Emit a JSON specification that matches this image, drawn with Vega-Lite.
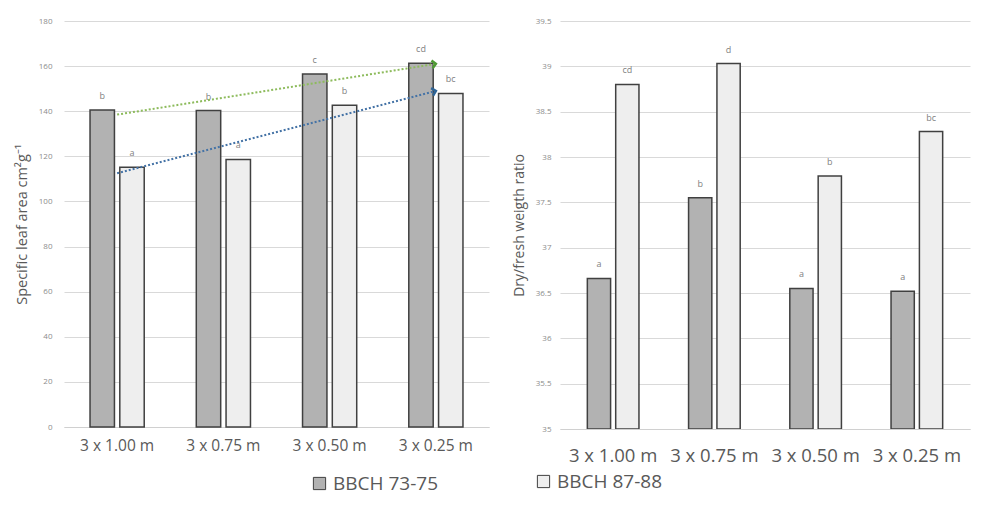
{
  "$schema": "https://vega.github.io/schema/vega-lite/v6.json",
  "background": "white",
  "padding": {"left": 14, "top": 17, "right": 10, "bottom": 5},
  "spacing": 23,
  "config": {
    "view": {"stroke": null},
    "font": "Open Sans",
    "axis": {"labelFont": "Open Sans", "titleFont": "Open Sans"},
    "legend": {"labelFont": "Open Sans"}
  },
  "datasets": {
    "sla": [
      {"spacing": "3 x 1.00 m", "stage": "BBCH 73-75", "value": 140.5, "letter": "b"},
      {"spacing": "3 x 1.00 m", "stage": "BBCH 87-88", "value": 115.2, "letter": "a"},
      {"spacing": "3 x 0.75 m", "stage": "BBCH 73-75", "value": 140.3, "letter": "b"},
      {"spacing": "3 x 0.75 m", "stage": "BBCH 87-88", "value": 118.6, "letter": "a"},
      {"spacing": "3 x 0.50 m", "stage": "BBCH 73-75", "value": 156.5, "letter": "c"},
      {"spacing": "3 x 0.50 m", "stage": "BBCH 87-88", "value": 142.7, "letter": "b"},
      {"spacing": "3 x 0.25 m", "stage": "BBCH 73-75", "value": 161.3, "letter": "cd"},
      {"spacing": "3 x 0.25 m", "stage": "BBCH 87-88", "value": 147.9, "letter": "bc"}
    ],
    "dfr": [
      {"spacing": "3 x 1.00 m", "stage": "BBCH 73-75", "value": 36.66, "letter": "a"},
      {"spacing": "3 x 1.00 m", "stage": "BBCH 87-88", "value": 38.8, "letter": "cd"},
      {"spacing": "3 x 0.75 m", "stage": "BBCH 73-75", "value": 37.55, "letter": "b"},
      {"spacing": "3 x 0.75 m", "stage": "BBCH 87-88", "value": 39.03, "letter": "d"},
      {"spacing": "3 x 0.50 m", "stage": "BBCH 73-75", "value": 36.55, "letter": "a"},
      {"spacing": "3 x 0.50 m", "stage": "BBCH 87-88", "value": 37.79, "letter": "b"},
      {"spacing": "3 x 0.25 m", "stage": "BBCH 73-75", "value": 36.52, "letter": "a"},
      {"spacing": "3 x 0.25 m", "stage": "BBCH 87-88", "value": 38.28, "letter": "bc"}
    ],
    "trends": [
      {"trend": "BBCH 73-75", "from": "3 x 1.00 m", "to": "3 x 0.25 m", "start": 138.5, "end": 161},
      {"trend": "BBCH 87-88", "from": "3 x 1.00 m", "to": "3 x 0.25 m", "start": 112.5, "end": 149}
    ]
  },
  "hconcat": [
    {
      "width": 425,
      "height": 406,
      "layer": [
        {
          "data": {"name": "sla"},
          "mark": {"type": "bar", "stroke": "#404040", "strokeWidth": 1.5},
          "encoding": {
            "x": {"field": "spacing", "type": "nominal",
              "scale": {"domain": ["3 x 1.00 m", "3 x 0.75 m", "3 x 0.50 m", "3 x 0.25 m"], "paddingInner": 0.49, "paddingOuter": 0.245},
              "axis": {"title": null, "labelAngle": 0, "labelFontSize": 15.5, "labelColor": "#595959", "ticks": false, "labelPadding": 11, "domainColor": "#d0d0d0", "grid": false}},
            "xOffset": {"field": "stage", "type": "nominal", "scale": {"domain": ["BBCH 73-75", "BBCH 87-88"], "paddingInner": 0.18}},
            "y": {"field": "value", "type": "quantitative",
              "scale": {"domain": [0, 180], "nice": false},
              "axis": {"values": [0, 20, 40, 60, 80, 100, 120, 140, 160, 180], "title": "Specific  leaf area cm²g⁻¹", "titleFontSize": 14.5, "titleColor": "#595959", "titleFontWeight": "normal", "titlePadding": 9, "labelFontSize": 8, "labelColor": "#8c8c8c", "labelPadding": 12, "domain": false, "ticks": false, "gridColor": "#d9d9d9"}},
            "color": {"field": "stage", "type": "nominal",
              "scale": {"domain": ["BBCH 73-75", "BBCH 87-88"], "range": ["#b2b2b2", "#eeeeee"]},
              "legend": {"values": ["BBCH 73-75"], "title": null, "orient": "none", "legendX": 246, "legendY": 453, "symbolType": "square", "symbolSize": 150, "symbolStrokeColor": "#404040", "symbolStrokeWidth": 1, "labelFontSize": 19, "labelColor": "#595959", "labelOffset": 4}}
          }
        },
        {
          "data": {"name": "sla"},
          "mark": {"type": "text", "dy": -9, "fontSize": 9, "color": "#7f7f7f", "baseline": "bottom"},
          "encoding": {
            "x": {"field": "spacing", "type": "nominal"},
            "xOffset": {"field": "stage", "type": "nominal"},
            "y": {"field": "value", "type": "quantitative"},
            "text": {"field": "letter"}
          }
        },
        {
          "data": {"name": "trends"},
          "transform": [{"filter": "datum.trend == 'BBCH 73-75'"}],
          "mark": {"type": "rule", "stroke": "#8dbb5c", "strokeWidth": 2, "strokeDash": [2, 2]},
          "encoding": {
            "x": {"field": "from", "type": "nominal", "bandPosition": 0.5},
            "x2": {"field": "to", "bandPosition": 0.5},
            "y": {"field": "start", "type": "quantitative"},
            "y2": {"field": "end"}
          }
        },
        {
          "data": {"name": "trends"},
          "transform": [{"filter": "datum.trend == 'BBCH 87-88'"}],
          "mark": {"type": "rule", "stroke": "#4573a6", "strokeWidth": 2, "strokeDash": [2, 2]},
          "encoding": {
            "x": {"field": "from", "type": "nominal", "bandPosition": 0.5},
            "x2": {"field": "to", "bandPosition": 0.5},
            "y": {"field": "start", "type": "quantitative"},
            "y2": {"field": "end"}
          }
        },
        {
          "data": {"name": "trends"},
          "transform": [{"filter": "datum.trend == 'BBCH 73-75'"}],
          "mark": {"type": "point", "shape": "M-1,-1L0,0L-1,1", "filled": false, "stroke": "#4f9a35", "strokeWidth": 2.5, "size": 60, "angle": -9, "opacity": 1},
          "encoding": {
            "x": {"field": "to", "type": "nominal", "bandPosition": 0.5},
            "y": {"field": "end", "type": "quantitative"}
          }
        },
        {
          "data": {"name": "trends"},
          "transform": [{"filter": "datum.trend == 'BBCH 87-88'"}],
          "mark": {"type": "point", "shape": "M-1,-1L0,0L-1,1", "filled": false, "stroke": "#2e6496", "strokeWidth": 2.5, "size": 60, "angle": -15, "opacity": 1},
          "encoding": {
            "x": {"field": "to", "type": "nominal", "bandPosition": 0.5},
            "y": {"field": "end", "type": "quantitative"}
          }
        }
      ]
    },
    {
      "width": 410,
      "height": 408,
      "data": {"name": "dfr"},
      "layer": [
        {
          "mark": {"type": "bar", "stroke": "#404040", "strokeWidth": 1.5, "clip": true},
          "encoding": {
            "x": {"field": "spacing", "type": "nominal",
              "scale": {"domain": ["3 x 1.00 m", "3 x 0.75 m", "3 x 0.50 m", "3 x 0.25 m"], "paddingInner": 0.49, "paddingOuter": 0.27},
              "axis": {"title": null, "labelAngle": 0, "labelFontSize": 18.5, "labelColor": "#595959", "ticks": false, "labelPadding": 17, "domainColor": "#d0d0d0", "grid": false}},
            "xOffset": {"field": "stage", "type": "nominal", "scale": {"domain": ["BBCH 73-75", "BBCH 87-88"], "paddingInner": 0.18}},
            "y": {"field": "value", "type": "quantitative",
              "scale": {"domain": [35, 39.5], "nice": false, "zero": false},
              "axis": {"values": [35, 35.5, 36, 36.5, 37, 37.5, 38, 38.5, 39, 39.5], "format": "~g", "title": "Dry/fresh weigth ratio", "titleFontSize": 14, "titleColor": "#595959", "titleFontWeight": "normal", "titlePadding": 9, "labelFontSize": 8, "labelColor": "#8c8c8c", "labelPadding": 9, "domain": false, "ticks": false, "gridColor": "#d9d9d9"}},
            "y2": {"datum": 35},
            "color": {"field": "stage", "type": "nominal",
              "scale": {"domain": ["BBCH 73-75", "BBCH 87-88"], "range": ["#b2b2b2", "#eeeeee"]},
              "legend": {"values": ["BBCH 87-88"], "title": null, "orient": "none", "legendX": -26, "legendY": 451, "symbolType": "square", "symbolSize": 150, "symbolStrokeColor": "#404040", "symbolStrokeWidth": 1, "labelFontSize": 19, "labelColor": "#595959", "labelOffset": 4}}
          }
        },
        {
          "mark": {"type": "text", "dy": -9, "fontSize": 9, "color": "#7f7f7f", "baseline": "bottom"},
          "encoding": {
            "x": {"field": "spacing", "type": "nominal"},
            "xOffset": {"field": "stage", "type": "nominal"},
            "y": {"field": "value", "type": "quantitative"},
            "text": {"field": "letter"}
          }
        }
      ]
    }
  ],
  "resolve": {"scale": {"x": "independent", "y": "independent", "xOffset": "independent", "color": "independent"}, "legend": {"color": "independent"}}
}
